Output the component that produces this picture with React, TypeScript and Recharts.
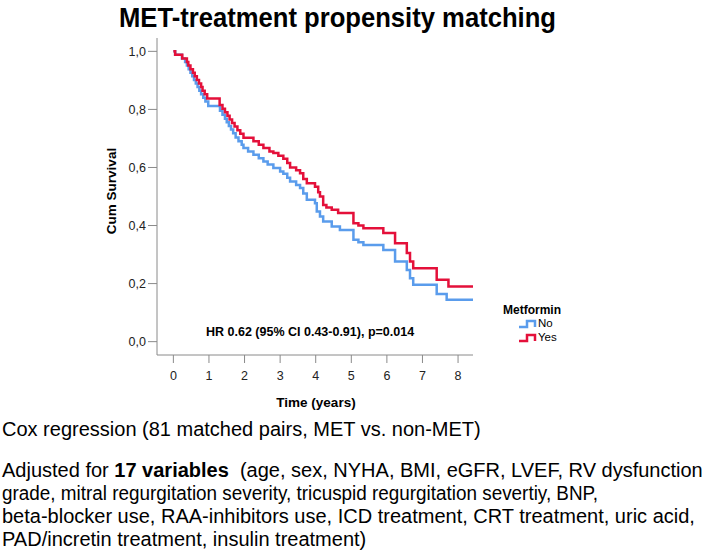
import { LineChart, Line, XAxis, YAxis } from "recharts";

const xTicks = [0, 1, 2, 3, 4, 5, 6, 7, 8];
const yTicks = [0, 0.2, 0.4, 0.6, 0.8, 1.0];

// Metformin = Yes
const yesTimes = [0, 0.05, 0.25, 0.38, 0.42, 0.48, 0.55, 0.6, 0.66, 0.72, 0.78, 0.82, 0.88, 0.95, 1.3, 1.38, 1.45, 1.52, 1.58, 1.65, 1.72, 1.8, 1.88, 1.97, 2.25, 2.4, 2.53, 2.7, 2.81, 2.95, 3.09, 3.2, 3.28, 3.45, 3.56, 3.65, 3.75, 3.98, 4.07, 4.12, 4.21, 4.3, 4.45, 4.63, 5.06, 5.2, 5.34, 5.9, 6.23, 6.56, 6.65, 6.74, 7.4, 7.73, 8.43];
const yesSurv = [1.0, 0.988, 0.975, 0.963, 0.951, 0.938, 0.926, 0.914, 0.901, 0.889, 0.877, 0.864, 0.852, 0.838, 0.815, 0.802, 0.79, 0.778, 0.765, 0.753, 0.741, 0.728, 0.716, 0.702, 0.69, 0.678, 0.667, 0.655, 0.65, 0.64, 0.63, 0.615, 0.6, 0.59, 0.58, 0.56, 0.546, 0.534, 0.515, 0.5, 0.471, 0.462, 0.454, 0.443, 0.408, 0.4, 0.391, 0.374, 0.339, 0.305, 0.276, 0.253, 0.213, 0.19, 0.19];

// Metformin = No
const noTimes = [0, 0.05, 0.24, 0.33, 0.38, 0.43, 0.48, 0.53, 0.58, 0.63, 0.68, 0.73, 0.78, 0.84, 0.9, 0.98, 1.31, 1.38, 1.45, 1.5, 1.56, 1.62, 1.68, 1.75, 1.83, 1.92, 1.97, 2.1, 2.25, 2.4, 2.53, 2.65, 2.81, 3.0, 3.09, 3.2, 3.28, 3.45, 3.56, 3.65, 3.75, 3.98, 4.03, 4.12, 4.21, 4.45, 4.68, 5.06, 5.2, 5.34, 5.9, 6.23, 6.56, 6.65, 6.74, 7.4, 7.68, 8.43];
const noSurv = [1.0, 0.988, 0.975, 0.963, 0.951, 0.938, 0.926, 0.914, 0.901, 0.889, 0.877, 0.864, 0.852, 0.84, 0.827, 0.812, 0.795, 0.782, 0.768, 0.756, 0.743, 0.731, 0.718, 0.703, 0.69, 0.678, 0.667, 0.655, 0.644, 0.632, 0.621, 0.61, 0.598, 0.586, 0.578, 0.565, 0.552, 0.54, 0.529, 0.51, 0.489, 0.477, 0.448, 0.431, 0.414, 0.397, 0.385, 0.351, 0.342, 0.333, 0.316, 0.276, 0.247, 0.218, 0.196, 0.164, 0.144, 0.144];

const yesData = yesTimes.map((t, i) => ({ t, s: yesSurv[i] }));
const noData = noTimes.map((t, i) => ({ t, s: noSurv[i] }));

const RED = "#e4103a";
const BLUE = "#5a9cec";
const AXIS = "#8a8a8a";
const FONT = "'Liberation Sans', Arial, sans-serif";

export default function App() {
  return (
    <div style={{ position: "absolute", left: 0, top: 0, width: 708, height: 552, background: "#fff", fontFamily: FONT }}>
      <div style={{ position: "absolute", left: 0, top: 0 }}>
        <LineChart width={708} height={552} margin={{ top: 38, right: 235, bottom: 167, left: 0 }}>
          <XAxis
            dataKey="t"
            type="number"
            domain={[-0.46, 8.42]}
            ticks={xTicks}
            allowDataOverflow
            height={30}
            tickSize={8}
            tickMargin={8}
            stroke={AXIS}
            tick={{ fontSize: 12.5, fill: "#222", fontFamily: FONT }}
          />
          <YAxis
            type="number"
            domain={[-0.046, 1.046]}
            ticks={yTicks}
            allowDataOverflow
            width={157}
            tickSize={9}
            tickMargin={2}
            stroke={AXIS}
            tickFormatter={(v: number) => v.toFixed(1).replace(".", ",")}
            tick={{ fontSize: 12.5, fill: "#222", fontFamily: FONT }}
          />
          <Line data={noData} dataKey="s" type="stepAfter" stroke={BLUE} strokeWidth={2.5} dot={false} isAnimationActive={false} />
          <Line data={yesData} dataKey="s" type="stepAfter" stroke={RED} strokeWidth={2.5} dot={false} isAnimationActive={false} />
        </LineChart>
      </div>
      <svg width={708} height={552} style={{ position: "absolute", left: 0, top: 0, pointerEvents: "none" }} fontFamily={FONT}>
        <text x={119} y={27} fontSize={28} fontWeight="bold" fill="#000" textLength={437} lengthAdjust="spacingAndGlyphs">MET-treatment propensity matching</text>
        <text x={0} y={0} transform="translate(116,191) rotate(-90)" textAnchor="middle" fontSize={13.5} fontWeight="bold" fill="#000">Cum Survival</text>
        <text x={316} y={407} textAnchor="middle" fontSize={13.5} fontWeight="bold" fill="#000">Time (years)</text>
        <text x={206} y={336} fontSize={12.5} fontWeight="bold" fill="#000">HR 0.62 (95% CI 0.43-0.91), p=0.014</text>
        <text x={503} y={314} fontSize={12} fontWeight="bold" fill="#000">Metformin</text>
        <path d="M519 327 H527 V321 H535 V327" fill="none" stroke={BLUE} strokeWidth={2.5} />
        <text x={538} y={327} fontSize={11.5} fill="#000">No</text>
        <path d="M519 341 H527 V335 H535 V341" fill="none" stroke={RED} strokeWidth={2.5} />
        <text x={538} y={341} fontSize={11.5} fill="#000">Yes</text>
        <text x={2} y={436} fontSize={20} fill="#000">Cox regression (81 matched pairs, MET vs. non-MET)</text>
        <text x={2} y={477} fontSize={20} fill="#000">
          Adjusted for <tspan fontWeight="bold">17 variables</tspan>{"\u00a0 (age, sex, NYHA, BMI, eGFR, LVEF, RV dysfunction"}
        </text>
        <text x={2} y={500} fontSize={20} fill="#000" textLength={596} lengthAdjust="spacingAndGlyphs">grade, mitral regurgitation severity, tricuspid regurgitation severtiy, BNP,</text>
        <text x={2} y={523} fontSize={20} fill="#000">beta-blocker use, RAA-inhibitors use, ICD treatment, CRT treatment, uric acid,</text>
        <text x={2} y={546} fontSize={20} fill="#000">PAD/incretin treatment, insulin treatment)</text>
      </svg>
    </div>
  );
}
